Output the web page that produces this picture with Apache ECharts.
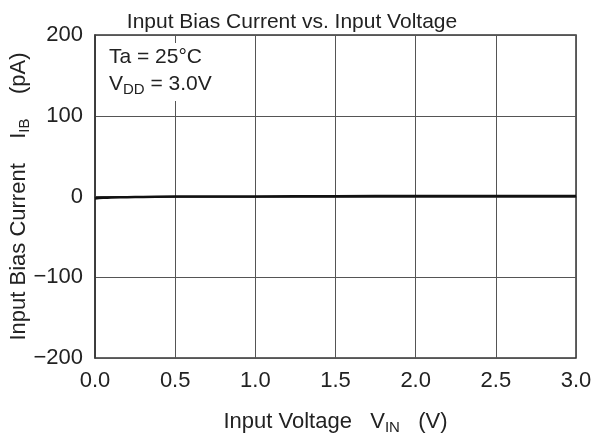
<!DOCTYPE html>
<html lang="en">
<head>
    <meta charset="UTF-8">
    <title>Input Bias Current vs. Input Voltage</title>
    <script src="https://cdn.jsdelivr.net/npm/echarts@6/dist/echarts.min.js"></script>
    <style>
        html, body { margin: 0; padding: 0; background: #fff; }
        #main { width: 603px; height: 439px; }
    </style>
</head>
<body>
    <div id="main"></div>
    <script>
    // data
    var vin = [0.0, 0.05, 0.1, 0.2, 0.3, 0.5, 1.0, 1.5, 2.0, 2.5, 3.0];
    var ib = [-2.5, -1.6, -1.1, -0.8, -0.5, 0, 0.1, 0.4, 0.5, 0.5, 0.5];
    var xTicks = [0, 0.5, 1.0, 1.5, 2.0, 2.5, 3.0];
    var yTicks = [-200, -100, 0, 100, 200];

    var font = 'Liberation Sans';
    var chart = echarts.init(document.getElementById('main'));

    var pts = [];
    for (var i = 0; i < vin.length; i++) pts.push([vin[i], ib[i]]);

    var subStyle = { fontSize: 15, fontFamily: font, color: '#222', padding: [12, 0, 0, 0] };

    chart.setOption({
        animation: false,
        textStyle: { fontFamily: font },
        title: {
            text: 'Input Bias Current vs. Input Voltage',
            left: 287, top: 7, textAlign: 'center',
            textStyle: { fontFamily: font, fontSize: 21, fontWeight: 'normal', color: '#222' }
        },
        grid: {
            left: 95, right: 27, top: 35, bottom: 81,
            outerBoundsMode: 'none', containLabel: false,
            show: true, borderColor: '#333', borderWidth: 1.5
        },
        xAxis: {
            type: 'value', min: 0, max: 3, interval: 0.5,
            axisLine: { lineStyle: { color: '#333', width: 1.5 } },
            axisTick: { show: false },
            splitLine: { lineStyle: { color: '#555', width: 1 } },
            axisLabel: {
                margin: 12, fontSize: 22, color: '#222', fontFamily: font,
                formatter: function (v) { return v.toFixed(1); }
            },
            name: 'Input Voltage   V{sub|IN}   (V)',
            nameLocation: 'middle', nameGap: 50, nameMoveOverlap: false,
            nameTextStyle: {
                fontSize: 22, color: '#222', fontFamily: font,
                rich: { sub: subStyle }
            }
        },
        yAxis: {
            type: 'value', min: -200, max: 200, interval: 100,
            axisLine: { show: true, lineStyle: { color: '#333', width: 1.5 } },
            axisTick: { show: false },
            splitLine: { lineStyle: { color: '#555', width: 1 } },
            axisLabel: {
                margin: 12, fontSize: 22, color: '#222', fontFamily: font,
                formatter: function (v) { return String(v).replace('-', '\u2212'); }
            },
            name: 'Input Bias Current    I{sub|IB}    (pA)',
            nameLocation: 'middle', nameGap: 63, nameMoveOverlap: false,
            nameTextStyle: {
                fontSize: 22, color: '#222', fontFamily: font,
                rich: { sub: subStyle }
            }
        },
        graphic: [{
            type: 'text', left: 105, top: 43, z: 100,
            style: {
                text: 'Ta = 25°C\nV{sub|DD} = 3.0V',
                fontFamily: font, fontSize: 21, lineHeight: 27, fill: '#222',
                backgroundColor: '#fff', padding: [1, 4, 3, 4],
                rich: { sub: { fontSize: 15, fontFamily: font, padding: [11, 0, 0, 0], fill: '#222' } }
            }
        }],
        series: [{
            type: 'line', data: pts, showSymbol: false, smooth: true,
            lineStyle: { color: '#111', width: 2.5 }
        }]
    });
    </script>
</body>
</html>
